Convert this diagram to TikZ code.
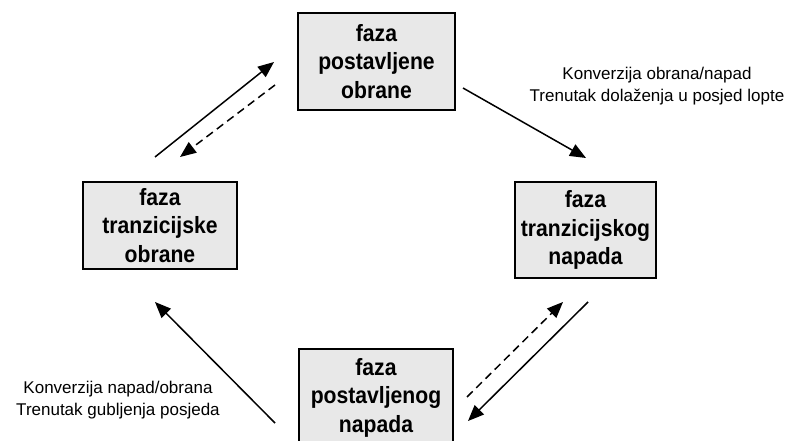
\documentclass[tikz,border=0pt]{standalone}
\usepackage{fontspec}
\setmainfont{Liberation Sans}
\newfontfamily\boxfont{Liberation Sans}[FakeStretch=0.9]
\usetikzlibrary{arrows.meta}
\begin{document}
\begin{tikzpicture}[x=1pt,y=-1pt,
  phase/.style={draw=black,line width=1.6pt,fill=black!9,align=center,inner sep=0pt,
    font=\boxfont\bfseries\fontsize{23.5}{28.5}\selectfont},
  conv/.style={align=center,font=\fontsize{17}{22.5}\selectfont,inner sep=0pt},
  arr/.style={line width=1.5pt,-{Triangle[length=16pt,width=13pt]}},
  darr/.style={arr,dash pattern=on 8pt off 5pt}]
\useasboundingbox (0,0) rectangle (792,441);
\begin{scope}
\clip (0,0) rectangle (792,441);
\node[phase,minimum width=157,minimum height=97] (top) at (376.5,61.5) {faza\\postavljene\\obrane};
\node[phase,minimum width=154,minimum height=87] (left) at (160,225.5) {faza\\tranzicijske\\obrane};
\node[phase,minimum width=141,minimum height=96] (right) at (585.5,230) {faza\\tranzicijskog\\napada};
\node[phase,minimum width=154,minimum height=97] (bottom) at (376,397.5) {faza\\postavljenog\\napada};
\end{scope}
\node[conv] (lab1) at (657,86) {Konverzija obrana/napad\\Trenutak dolaženja u posjed lopte};
\node[conv] (lab2) at (118,400) {Konverzija napad/obrana\\Trenutak gubljenja posjeda};
\coordinate (a1s) at (155,157); \coordinate (a1e) at (274,62);
\coordinate (a2s) at (275,85);  \coordinate (a2e) at (180,157);
\coordinate (a3s) at (463,88);  \coordinate (a3e) at (586,158);
\coordinate (a4s) at (467,397); \coordinate (a4e) at (563,302);
\coordinate (a5s) at (588,302); \coordinate (a5e) at (468,421);
\coordinate (a6s) at (275,423); \coordinate (a6e) at (155,302);
\draw[arr] (a1s) -- (a1e);
\draw[darr] (a2s) -- (a2e);
\draw[arr] (a3s) -- (a3e);
\draw[darr] (a4s) -- (a4e);
\draw[arr] (a5s) -- (a5e);
\draw[arr] (a6s) -- (a6e);
\end{tikzpicture}
\end{document}
